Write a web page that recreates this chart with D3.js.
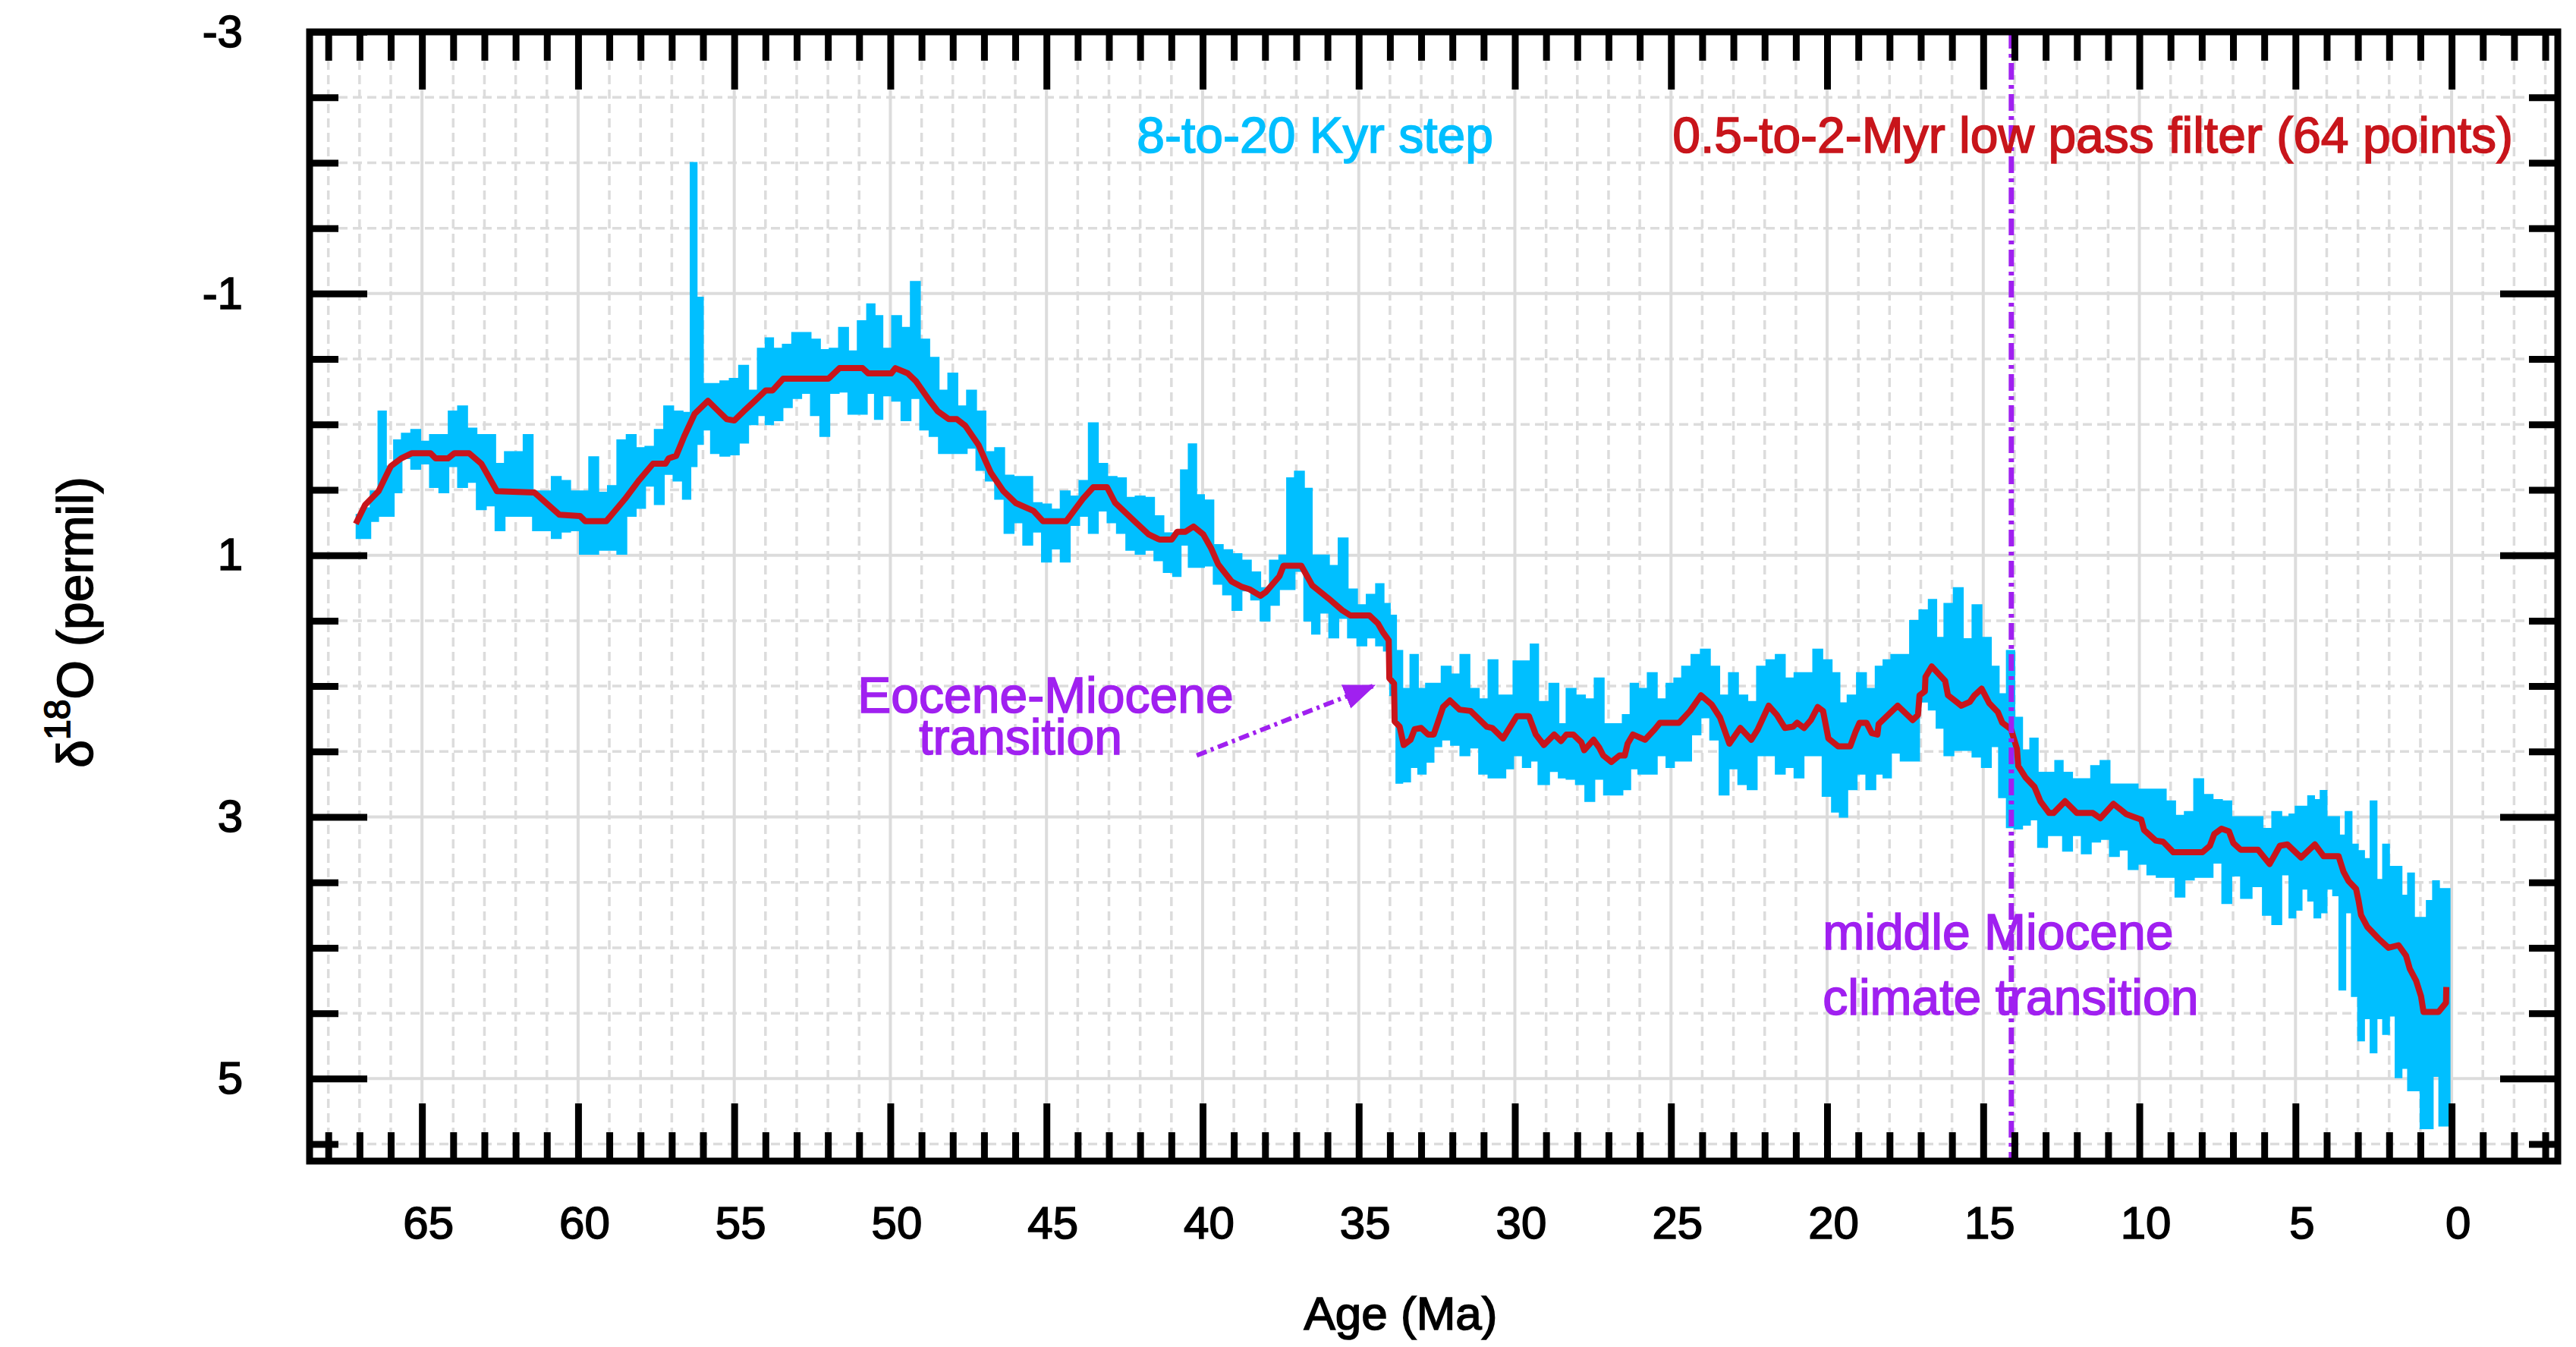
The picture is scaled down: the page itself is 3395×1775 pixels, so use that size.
<!DOCTYPE html>
<html>
<head>
<meta charset="utf-8">
<script src="https://cdn.jsdelivr.net/npm/d3@7/dist/d3.min.js"></script>
<style>
  body { margin: 0; background: #fff; }
  text { font-family: "Liberation Sans", Arial, Helvetica, sans-serif; stroke-width: 1.6px; }
</style>
</head>
<body>
<script>
var cyanAge = [67.1,66.8,66.5,66.3,66.0,65.8,65.5,65.2,64.9,64.6,64.3,64.0,63.7,63.4,63.1,62.8,62.5,62.2,61.9,61.6,
  61.3,61.0,60.7,60.4,60.1,59.8,59.5,59.2,58.9,58.6,58.3,58.0,57.7,57.4,57.1,56.8,56.5,56.3,56.1,55.9,
  55.6,55.3,55.0,54.7,54.4,54.1,53.9,53.6,53.3,53.0,52.7,52.4,52.1,51.8,51.5,51.2,50.9,50.6,50.4,50.1,
  49.8,49.5,49.2,48.9,48.6,48.3,48.0,47.7,47.4,47.1,46.8,46.5,46.2,45.9,45.6,45.3,45.0,44.7,44.4,44.1,
  43.8,43.5,43.2,42.9,42.6,42.3,42.0,41.7,41.4,41.1,40.8,40.6,40.3,40.1,39.8,39.5,39.2,38.9,38.6,38.3,
  38.0,37.7,37.4,37.2,36.9,36.6,36.4,36.1,35.8,35.5,35.2,34.9,34.6,34.3,34.1,33.9,33.7,33.5,33.2,33.0,
  32.7,32.5,32.2,31.9,31.6,31.3,31.0,30.7,30.4,30.2,29.9,29.6,29.4,29.1,28.7,28.5,28.2,27.9,27.6,27.3,
  27.0,26.7,26.4,26.2,25.9,25.6,25.3,25.0,24.8,24.5,24.2,23.9,23.6,23.3,23.0,22.7,22.4,22.1,21.8,21.5,
  21.2,20.9,20.6,20.3,20.0,19.7,19.5,19.2,18.9,18.6,18.3,18.1,17.8,17.5,17.2,16.9,16.6,16.4,16.1,15.8,
  15.5,15.2,14.9,14.6,14.4,14.1,13.9,13.6,13.4,13.1,12.8,12.6,12.3,12.0,11.7,11.4,11.1,10.8,10.5,10.2,
  9.9,9.6,9.3,9.0,8.7,8.4,8.1,7.8,7.5,7.2,6.9,6.6,6.2,5.9,5.6,5.3,5.1,4.9,4.7,4.5,
  4.3,4.1,3.9,3.7,3.5,3.3,3.1,2.9,2.7,2.5,2.3,2.1,1.9,1.7,1.5,1.3,1.1,0.9,0.7,0.5,
  0.3,0.06];
var cyanTop = [0.69,0.64,0.51,-0.10,0.32,0.12,0.07,0.04,0.13,0.08,0.08,-0.10,-0.14,0.03,0.08,0.08,0.30,0.21,0.21,0.08,
  0.51,0.51,0.40,0.43,0.51,0.51,0.25,0.52,0.47,0.12,0.08,0.18,0.17,0.04,-0.14,-0.10,-0.09,-2.0,-0.97,-0.31,
  -0.31,-0.33,-0.35,-0.45,-0.26,-0.58,-0.66,-0.58,-0.61,-0.70,-0.70,-0.65,-0.57,-0.58,-0.74,-0.56,-0.79,-0.92,-0.83,-0.58,
  -0.83,-0.74,-1.09,-0.65,-0.51,-0.26,-0.39,-0.14,-0.26,-0.10,0.21,0.18,0.39,0.40,0.40,0.60,0.61,0.65,0.51,0.55,
  0.43,-0.01,0.30,0.40,0.41,0.56,0.55,0.56,0.70,0.83,0.84,0.35,0.15,0.54,0.58,0.92,0.96,0.99,1.04,1.13,
  1.25,1.04,1.00,0.41,0.36,0.49,1.00,1.00,1.08,0.87,1.26,1.38,1.30,1.22,1.37,1.46,1.73,2.02,1.76,2.02,
  1.98,1.98,1.85,1.91,1.76,2.02,2.10,1.80,2.07,2.07,1.81,1.81,1.68,2.12,1.98,2.29,2.02,2.07,2.10,1.94,
  2.29,2.29,2.22,1.98,2.02,1.90,2.10,1.98,1.94,1.85,1.76,1.72,1.85,2.07,1.90,2.07,2.12,1.85,1.80,1.76,
  1.94,1.90,1.90,1.72,1.80,1.90,2.13,2.07,1.90,2.02,1.85,1.80,1.76,1.76,1.50,1.42,1.34,1.63,1.37,1.25,
  1.64,1.38,1.63,1.85,2.06,1.73,2.24,2.49,2.40,2.66,2.66,2.57,2.66,2.71,2.71,2.61,2.57,2.75,2.75,2.75,
  2.79,2.79,2.79,2.88,2.99,2.96,2.71,2.83,2.87,2.88,3.00,3.00,3.00,3.09,2.96,3.00,2.98,2.92,2.92,2.84,
  2.87,2.80,3.00,3.00,3.14,2.96,3.21,3.26,3.32,2.88,3.48,3.21,3.38,3.38,3.60,3.43,3.77,3.77,3.64,3.49,
  3.55,3.55];
var cyanBot = [0.87,0.87,0.74,0.70,0.70,0.52,0.26,0.34,0.30,0.48,0.52,0.32,0.48,0.44,0.65,0.62,0.81,0.70,0.70,0.70,
  0.81,0.81,0.87,0.82,0.81,0.99,0.99,0.96,0.96,0.99,0.70,0.64,0.47,0.61,0.38,0.43,0.57,0.32,0.15,0.04,
  0.22,0.24,0.23,0.14,0.00,-0.07,0.00,-0.03,-0.13,-0.20,-0.24,-0.07,0.09,-0.24,-0.25,-0.08,-0.08,-0.24,-0.04,-0.22,
  -0.18,-0.03,-0.20,0.04,0.09,0.22,0.22,0.22,0.18,0.35,0.43,0.57,0.83,0.75,0.92,0.82,1.05,0.95,1.05,0.77,
  0.70,0.83,0.66,0.75,0.83,0.96,0.99,0.96,1.04,1.13,1.16,0.92,1.09,1.09,1.08,1.22,1.30,1.42,1.27,1.34,
  1.50,1.38,1.26,1.26,1.12,1.50,1.60,1.44,1.63,1.48,1.63,1.69,1.63,1.69,1.73,2.07,2.74,2.73,2.62,2.67,
  2.58,2.46,2.41,2.45,2.53,2.47,2.67,2.70,2.70,2.63,2.53,2.62,2.57,2.75,2.65,2.70,2.71,2.75,2.88,2.71,
  2.83,2.83,2.79,2.63,2.67,2.67,2.53,2.62,2.57,2.57,2.37,2.24,2.41,2.83,2.63,2.75,2.79,2.53,2.53,2.67,
  2.62,2.70,2.53,2.53,2.84,2.96,3.00,2.79,2.67,2.79,2.67,2.70,2.51,2.57,2.57,2.12,2.18,2.32,2.53,2.49,
  2.49,2.54,2.62,2.46,2.85,3.08,3.09,3.06,3.02,3.23,3.14,3.14,3.26,3.14,3.28,3.19,3.17,3.30,3.25,3.40,
  3.36,3.44,3.46,3.46,3.61,3.48,3.46,3.46,3.35,3.66,3.45,3.62,3.53,3.75,3.82,3.44,3.77,3.71,3.55,3.64,
  3.77,3.73,3.55,3.60,4.32,3.73,4.37,4.71,4.54,4.80,4.54,4.66,4.52,4.99,4.92,5.09,5.09,5.38,5.38,4.98,
  5.36,5.36];

// 0.5-to-2-Myr low pass filter
var redAge = [67.12,66.82,66.39,66.0,65.67,65.32,64.73,64.56,64.17,63.96,63.49,63.1,62.6,61.4,60.6,59.94,59.77,59.1,58.5,58.06,
  57.6,57.2,57.1,56.86,56.6,56.27,55.84,55.5,55.24,55.0,54.7,54.34,53.99,53.77,53.43,51.98,51.63,50.89,50.71,49.97,
  49.84,49.44,49.18,48.74,48.48,48.13,47.87,47.6,47.17,46.95,46.78,46.38,45.99,45.42,45.11,44.37,43.84,43.5,43.06,42.8,
  42.18,41.73,41.38,40.99,40.81,40.55,40.29,39.98,39.72,39.5,39.07,38.76,38.5,38.15,37.97,37.54,37.41,36.84,36.49,35.97,
  35.53,35.27,34.66,34.39,34.22,34.04,34.02,33.87,33.85,33.69,33.56,33.34,33.21,33.0,32.78,32.6,32.47,32.3,32.08,31.77,
  31.42,30.9,30.72,30.38,29.94,29.55,29.33,29.07,28.74,28.52,28.35,28.13,27.87,27.78,27.48,27.3,27.17,26.91,26.65,26.48,
  26.39,26.22,25.83,25.52,25.35,24.74,24.39,24.04,23.7,23.43,23.13,22.78,22.43,22.22,21.87,21.61,21.35,21.09,20.96,20.74,
  20.52,20.3,20.13,19.96,19.65,19.26,19.09,18.96,18.74,18.57,18.39,18.35,17.74,17.26,17.09,17.04,16.87,16.85,16.65,16.22,
  16.13,15.7,15.43,15.28,15.05,14.81,14.53,14.39,14.11,13.92,13.88,13.64,13.36,13.17,12.89,12.75,12.38,12.0,11.49,11.25,
  10.83,10.41,10.18,9.94,9.85,9.48,9.24,8.91,7.98,7.74,7.6,7.37,7.13,6.99,6.76,6.2,5.83,5.5,5.26,4.82,
  4.38,4.1,3.62,3.46,3.3,3.06,2.98,2.9,2.7,2.34,2.02,1.7,1.46,1.34,1.14,0.98,0.9,0.42,0.18,0.17];
var redVal = [0.76,0.615,0.51,0.32,0.26,0.22,0.22,0.26,0.26,0.22,0.22,0.30,0.51,0.52,0.69,0.70,0.74,0.74,0.57,0.43,
  0.30,0.30,0.26,0.24,0.09,-0.08,-0.18,-0.10,-0.04,-0.03,-0.10,-0.18,-0.26,-0.26,-0.35,-0.35,-0.43,-0.43,-0.39,-0.39,
  -0.43,-0.39,-0.33,-0.18,-0.10,-0.04,-0.04,0.01,0.16,0.28,0.37,0.51,0.60,0.66,0.74,0.74,0.57,0.48,0.48,0.60,
  0.74,0.84,0.88,0.88,0.82,0.82,0.78,0.84,0.95,1.07,1.20,1.24,1.26,1.31,1.28,1.16,1.08,1.08,1.23,1.33,
  1.42,1.46,1.46,1.52,1.59,1.65,1.94,1.98,2.27,2.31,2.45,2.41,2.33,2.32,2.37,2.37,2.28,2.16,2.11,2.18,
  2.19,2.31,2.32,2.40,2.23,2.23,2.37,2.45,2.37,2.42,2.37,2.37,2.43,2.49,2.41,2.47,2.53,2.58,2.53,2.53,
  2.44,2.37,2.41,2.33,2.28,2.28,2.19,2.07,2.14,2.24,2.44,2.32,2.41,2.33,2.15,2.22,2.32,2.31,2.28,2.32,
  2.26,2.16,2.19,2.40,2.46,2.46,2.35,2.28,2.28,2.36,2.37,2.29,2.15,2.26,2.22,2.07,2.04,1.93,1.85,1.96,
  2.07,2.15,2.12,2.07,2.02,2.13,2.20,2.28,2.33,2.48,2.61,2.70,2.77,2.88,2.97,2.97,2.88,2.97,2.97,3.01,
  2.90,2.98,3.00,3.02,3.10,3.18,3.19,3.27,3.27,3.22,3.13,3.09,3.11,3.20,3.25,3.25,3.36,3.22,3.21,3.31,
  3.21,3.30,3.30,3.42,3.49,3.55,3.64,3.75,3.84,3.93,4.00,3.98,4.06,4.16,4.25,4.37,4.49,4.49,4.42,4.30];

var xMajor = [65, 60, 55, 50, 45, 40, 35, 30, 25, 20, 15, 10, 5, 0];
var yMajor = [-3, -1, 1, 3, 5];
var mmctAge = 14.1;

var width = 3395, height = 1775;
var pLeft = 408, pRight = 3371, pTop = 42, pBottom = 1530;

var x = d3.scaleLinear().domain([68.6, -3.4]).range([pLeft, pRight]);
var y = d3.scaleLinear().domain([-3, 5.63]).range([pTop, pBottom]);

var xMinor = d3.range(68, -4, -1).filter(function (d) { return d % 5 !== 0; });
var yMinor = d3.range(-2.5, 5.6, 0.5).filter(function (d) { return yMajor.indexOf(d) < 0; });

var svg = d3.select("body").append("svg")
  .attr("width", width)
  .attr("height", height);

// grid
var grid = svg.append("g").attr("stroke", "#dcdcdc");
grid.selectAll(".vmin").data(xMinor).enter().append("line")
  .attr("x1", d => x(d)).attr("x2", d => x(d))
  .attr("y1", pTop).attr("y2", pBottom)
  .attr("stroke-width", 3.5).attr("stroke-dasharray", "12,7");
grid.selectAll(".hmin").data(yMinor).enter().append("line")
  .attr("x1", pLeft).attr("x2", pRight)
  .attr("y1", d => y(d)).attr("y2", d => y(d))
  .attr("stroke-width", 3.5).attr("stroke-dasharray", "12,7");
grid.selectAll(".vmaj").data(xMajor).enter().append("line")
  .attr("x1", d => x(d)).attr("x2", d => x(d))
  .attr("y1", pTop).attr("y2", pBottom)
  .attr("stroke-width", 4);
grid.selectAll(".hmaj").data(yMajor).enter().append("line")
  .attr("x1", pLeft).attr("x2", pRight)
  .attr("y1", d => y(d)).attr("y2", d => y(d))
  .attr("stroke-width", 4);

// data
var cyan = cyanAge.map(function (a, i) { return {age: a, hi: cyanTop[i], lo: cyanBot[i]}; });
var red = redAge.map(function (a, i) { return {age: a, v: redVal[i]}; });

svg.append("path")
  .datum(cyan)
  .attr("d", d3.area().curve(d3.curveStep)
    .x(d => x(d.age)).y0(d => y(d.lo)).y1(d => y(d.hi)))
  .attr("fill", "#00bfff")
  .attr("stroke", "#00bfff")
  .attr("stroke-width", 2);

svg.append("path")
  .datum(red)
  .attr("d", d3.line().x(d => x(d.age)).y(d => y(d.v)))
  .attr("fill", "none")
  .attr("stroke", "#c8151b")
  .attr("stroke-width", 8)
  .attr("stroke-linejoin", "round");

// middle Miocene marker
svg.append("line")
  .attr("x1", x(mmctAge)).attr("x2", x(mmctAge))
  .attr("y1", pTop).attr("y2", pBottom)
  .attr("stroke", "#a020f0")
  .attr("stroke-width", 7)
  .attr("stroke-dasharray", "22,7,5,7");

svg.append("defs").append("marker")
  .attr("id", "head")
  .attr("viewBox", "0 0 10 10")
  .attr("refX", 9).attr("refY", 5)
  .attr("markerWidth", 7).attr("markerHeight", 7)
  .attr("markerUnits", "strokeWidth")
  .attr("orient", "auto")
  .append("path").attr("d", "M0,1 L10,5 L0,9 Z").attr("fill", "#a020f0");

svg.append("line")
  .attr("x1", x(40.19)).attr("y1", y(2.53))
  .attr("x2", x(34.55)).attr("y2", y(2.0))
  .attr("stroke", "#a020f0")
  .attr("stroke-width", 6)
  .attr("stroke-dasharray", "14,6,4,6")
  .attr("marker-end", "url(#head)");

// axes: ticks point inward on all four sides
function ticks(g, axis) {
  g.call(axis);
  g.select(".domain").remove();
  g.selectAll(".tick line").attr("stroke-width", 9);
  g.attr("font-size", 60).attr("font-family", null);
  g.selectAll("text").attr("fill", "#000").attr("stroke", "#000");
}
var plain = function (d) { return String(d); };

svg.append("g").attr("transform", "translate(0," + pBottom + ")")
  .call(ticks, d3.axisBottom(x).tickValues(xMajor).tickSize(-76).tickPadding(59).tickFormat(plain))
  .selectAll("text").attr("dx", 8);
svg.append("g").attr("transform", "translate(0," + pBottom + ")")
  .call(ticks, d3.axisBottom(x).tickValues(xMinor).tickSize(-38).tickFormat(""));
svg.append("g").attr("transform", "translate(0," + pTop + ")")
  .call(ticks, d3.axisTop(x).tickValues(xMajor).tickSize(-76).tickFormat(""));
svg.append("g").attr("transform", "translate(0," + pTop + ")")
  .call(ticks, d3.axisTop(x).tickValues(xMinor).tickSize(-38).tickFormat(""));

svg.append("g").attr("transform", "translate(" + pLeft + ",0)")
  .call(ticks, d3.axisLeft(y).tickValues(yMajor).tickSize(-76).tickPadding(88).tickFormat(plain));
svg.append("g").attr("transform", "translate(" + pLeft + ",0)")
  .call(ticks, d3.axisLeft(y).tickValues(yMinor).tickSize(-38).tickFormat(""));
svg.append("g").attr("transform", "translate(" + pRight + ",0)")
  .call(ticks, d3.axisRight(y).tickValues(yMajor).tickSize(-76).tickFormat(""));
svg.append("g").attr("transform", "translate(" + pRight + ",0)")
  .call(ticks, d3.axisRight(y).tickValues(yMinor).tickSize(-38).tickFormat(""));

svg.append("rect")
  .attr("x", pLeft).attr("y", pTop)
  .attr("width", pRight - pLeft).attr("height", pBottom - pTop)
  .attr("fill", "none").attr("stroke", "#000").attr("stroke-width", 9);

// labels
svg.append("text")
  .attr("x", 1846).attr("y", 1752)
  .attr("text-anchor", "middle")
  .attr("font-size", 62).attr("stroke", "#000")
  .text("Age (Ma)");

var ylab = svg.append("text")
  .attr("transform", "translate(122,820) rotate(-90)")
  .attr("text-anchor", "middle")
  .attr("font-size", 66).attr("stroke", "#000");
ylab.append("tspan").text("δ");
ylab.append("tspan").attr("dy", -30).attr("font-size", 48).text("18");
ylab.append("tspan").attr("dy", 30).text("O (permil)");

svg.append("text")
  .attr("x", x(36.4)).attr("y", y(-2.08))
  .attr("text-anchor", "middle")
  .attr("font-size", 66).attr("fill", "#00bfff").attr("stroke", "#00bfff")
  .text("8-to-20 Kyr step");
svg.append("text")
  .attr("x", x(24.95)).attr("y", y(-2.08))
  .attr("font-size", 66).attr("fill", "#c8151b").attr("stroke", "#c8151b")
  .text("0.5-to-2-Myr low pass filter (64 points)");

svg.append("text")
  .attr("x", x(45.03)).attr("y", y(2.20))
  .attr("text-anchor", "middle")
  .attr("font-size", 66).attr("fill", "#a020f0").attr("stroke", "#a020f0")
  .text("Eocene-Miocene");
svg.append("text")
  .attr("x", x(45.83)).attr("y", y(2.52))
  .attr("text-anchor", "middle")
  .attr("font-size", 66).attr("fill", "#a020f0").attr("stroke", "#a020f0")
  .text("transition");

svg.append("text")
  .attr("x", x(20.14)).attr("y", y(4.01))
  .attr("font-size", 66).attr("fill", "#a020f0").attr("stroke", "#a020f0")
  .text("middle Miocene");
svg.append("text")
  .attr("x", x(20.14)).attr("y", y(4.51))
  .attr("font-size", 66).attr("fill", "#a020f0").attr("stroke", "#a020f0")
  .text("climate transition");
</script>
</body>
</html>
